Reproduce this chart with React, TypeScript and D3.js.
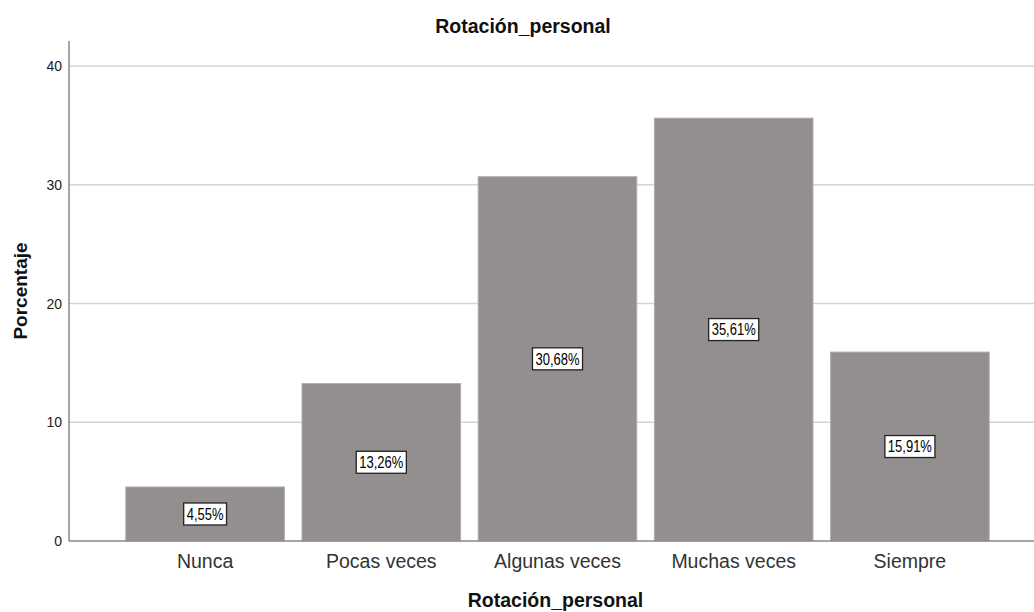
import React, { useEffect, useRef } from 'react';
import * as d3 from 'd3';

const categories = ['Nunca', 'Pocas veces', 'Algunas veces', 'Muchas veces', 'Siempre'];
const percentages = [4.55, 13.26, 30.68, 35.61, 15.91];
const yTicks = [0, 10, 20, 30, 40];

const App: React.FC = () => {
  const svgRef = useRef<SVGSVGElement>(null);

  useEffect(() => {
    if (!svgRef.current) return;
    const width = 1034;
    const height = 612;
    const margin = { top: 41, right: 0, bottom: 71, left: 69 };

    const svg = d3.select(svgRef.current);
    svg.selectAll('*').remove();
    const font = '"Liberation Sans", Arial, sans-serif';

    const x = d3.scaleBand<string>()
      .domain(categories)
      .range([117, 998])
      .paddingInner(0.1)
      .paddingOuter(0.05);

    const y = d3.scaleLinear()
      .domain([0, 40])
      .range([height - margin.bottom, 66]);

    // gridlines
    svg.append('g')
      .selectAll('line')
      .data(yTicks.filter(t => t > 0))
      .enter()
      .append('line')
      .attr('x1', margin.left)
      .attr('x2', width)
      .attr('y1', d => y(d))
      .attr('y2', d => y(d))
      .attr('stroke', '#d4d4d4')
      .attr('stroke-width', 1.5);

    // bars
    const data = categories.map((c, i) => ({ c, v: percentages[i] }));
    svg.append('g')
      .selectAll('rect')
      .data(data)
      .enter()
      .append('rect')
      .attr('x', d => x(d.c)!)
      .attr('y', d => y(d.v))
      .attr('width', x.bandwidth())
      .attr('height', d => y(0) - y(d.v))
      .attr('fill', '#938f8e')
      .attr('stroke', '#b0adac')
      .attr('stroke-width', 1);

    // axes lines
    svg.append('line')
      .attr('x1', margin.left).attr('x2', margin.left)
      .attr('y1', margin.top).attr('y2', y(0))
      .attr('stroke', '#888').attr('stroke-width', 1.5);
    svg.append('line')
      .attr('x1', margin.left).attr('x2', width)
      .attr('y1', y(0)).attr('y2', y(0))
      .attr('stroke', '#888').attr('stroke-width', 1.5);

    // y tick labels
    svg.append('g')
      .selectAll('text')
      .data(yTicks)
      .enter()
      .append('text')
      .attr('x', margin.left - 7)
      .attr('y', d => y(d))
      .attr('dy', '0.36em')
      .attr('text-anchor', 'end')
      .attr('font-family', font)
      .attr('font-size', 14)
      .attr('fill', '#222')
      .text(d => d);

    // category labels
    svg.append('g')
      .selectAll('text')
      .data(categories)
      .enter()
      .append('text')
      .attr('x', d => x(d)! + x.bandwidth() / 2)
      .attr('y', 568)
      .attr('text-anchor', 'middle')
      .attr('font-family', font)
      .attr('font-size', 19.5)
      .attr('fill', '#333')
      .text(d => d);

    // value labels (boxed, in the middle of each bar)
    const labels = svg.append('g')
      .selectAll('g')
      .data(data)
      .enter()
      .append('g')
      .attr('transform', d => `translate(${x(d.c)! + x.bandwidth() / 2},${(y(d.v) + y(0)) / 2})`);
    labels.append('rect')
      .attr('x', -23)
      .attr('y', -11)
      .attr('width', 46)
      .attr('height', 22)
      .attr('fill', '#fff')
      .attr('stroke', '#222')
      .attr('stroke-width', 1.3);
    labels.append('text')
      .attr('text-anchor', 'middle')
      .attr('transform', 'scale(1,1.25)')
      .attr('dy', '0.36em')
      .attr('font-family', font)
      .attr('font-size', 13)
      .attr('fill', '#000')
      .text(d => d.v.toFixed(2).replace('.', ',') + '%');
    labels.each(function () {
      const g = d3.select(this);
      const bb = (g.select('text').node() as SVGTextElement).getBBox();
      g.select('rect')
        .attr('x', -bb.width / 2 - 3)
        .attr('width', bb.width + 6);
    });

    // titles
    svg.append('text')
      .attr('x', 523)
      .attr('y', 33)
      .attr('text-anchor', 'middle')
      .attr('font-family', font)
      .attr('font-size', 19.5)
      .attr('font-weight', 'bold')
      .attr('fill', '#111')
      .text('Rotación_personal');

    svg.append('text')
      .attr('x', (margin.left + width) / 2 + 4)
      .attr('y', 607)
      .attr('text-anchor', 'middle')
      .attr('font-family', font)
      .attr('font-size', 19.5)
      .attr('font-weight', 'bold')
      .attr('fill', '#111')
      .text('Rotación_personal');

    svg.append('text')
      .attr('transform', `translate(27,${(margin.top + y(0)) / 2}) rotate(-90)`)
      .attr('text-anchor', 'middle')
      .attr('font-family', font)
      .attr('font-size', 19)
      .attr('font-weight', 'bold')
      .attr('fill', '#111')
      .text('Porcentaje');
  }, []);

  return (
    <svg
      ref={svgRef}
      width={1034}
      height={612}
      style={{ position: 'absolute', left: 0, top: 0, background: '#fff' }}
    ></svg>
  );
};

export default App;
